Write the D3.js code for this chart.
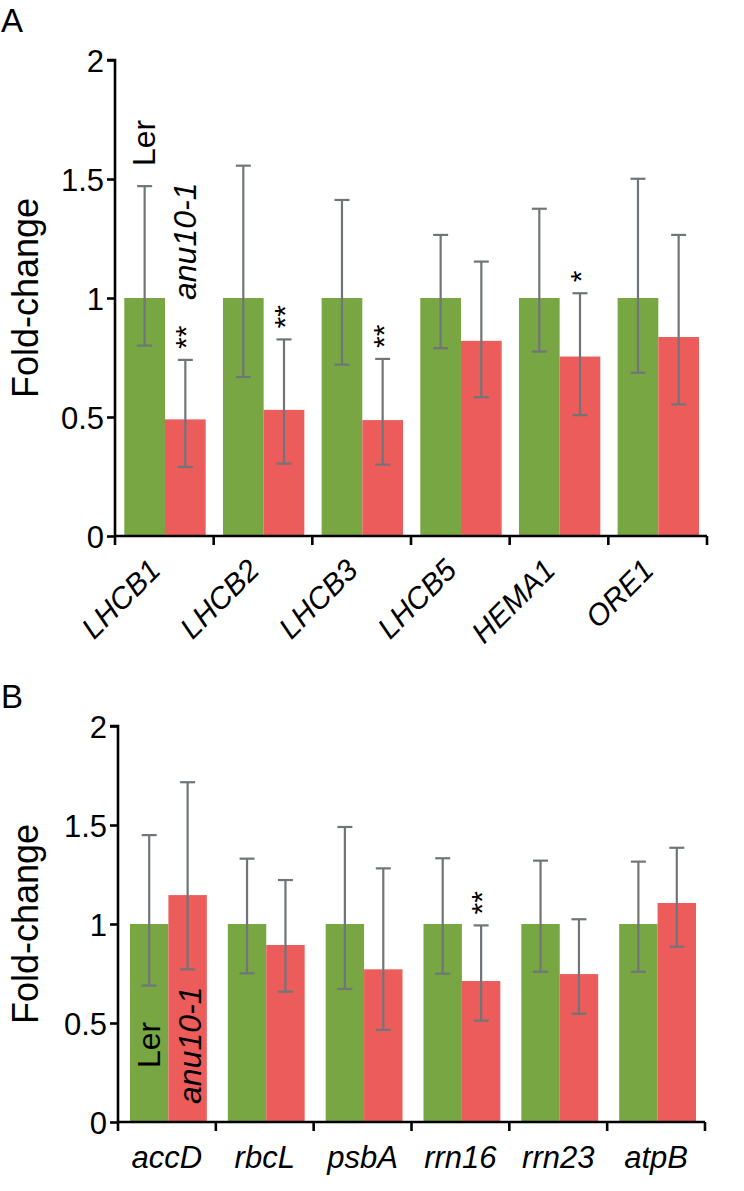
<!DOCTYPE html>
<html><head><meta charset="utf-8">
<script src="https://cdn.jsdelivr.net/npm/d3@7"></script>
<style>body{margin:0;background:#fff}svg{display:block}text{font-family:Arial,"Liberation Sans",Helvetica,sans-serif}</style>
</head><body>
<svg id="c" width="744" height="1191"></svg>
<script>
// Panel A data
const genesA = ["LHCB1","LHCB2","LHCB3","LHCB5","HEMA1","ORE1"];
const lerA = [1,1,1,1,1,1];
const lerA_hi = [1.47,1.556,1.412,1.265,1.375,1.501];
const lerA_lo = [0.80,0.668,0.72,0.789,0.775,0.686];
const anuA = [0.49,0.53,0.487,0.82,0.754,0.836];
const anuA_hi = [0.74,0.826,0.744,1.153,1.02,1.265];
const anuA_lo = [0.29,0.304,0.30,0.583,0.508,0.553];
const sigA = ["**","**","**","","*",""];
// Panel B data
const genesB = ["accD","rbcL","psbA","rrn16","rrn23","atpB"];
const lerB = [1,1,1,1,1,1];
const lerB_hi = [1.449,1.33,1.49,1.332,1.32,1.315];
const lerB_lo = [0.689,0.751,0.672,0.749,0.759,0.759];
const anuB = [1.146,0.894,0.771,0.712,0.747,1.106];
const anuB_hi = [1.716,1.222,1.281,0.993,1.024,1.385];
const anuB_lo = [0.771,0.658,0.465,0.512,0.547,0.885];
const sigB = ["","","","**","",""];
const yTicks = [0,0.5,1,1.5,2];
const tickLabels = ["0","0.5","1","1.5","2"];

const GREEN = "#78a642", RED = "#ec5c5a", ERR = "#6f7579";
const svg = d3.select("#c");

function panel(cfg){
  const {genes, ler, lerHi, lerLo, anu, anuHi, anuLo, sig, x0, x1, y0, y1, padL, padR, rotate, letter, lx, ly, legend} = cfg;
  const g = svg.append("g");
  const x = d3.scaleBand().domain(genes).range([x0, x1]).paddingInner(0).paddingOuter(0);
  const y = d3.scaleLinear().domain([0,2]).range([y0, y1]);
  const bw = x.bandwidth();
  const barW = (bw - padL - padR)/2;
  const rows = genes.map((gname,i)=>({g:gname,i}));
  const series = [
    {vals:ler, hi:lerHi, lo:lerLo, col:GREEN, off:padL},
    {vals:anu, hi:anuHi, lo:anuLo, col:RED, off:padL+barW}
  ];
  series.forEach(s=>{
    g.selectAll(null).data(rows).enter().append("rect")
      .attr("x", d=>x(d.g)+s.off).attr("width", barW)
      .attr("y", d=>y(s.vals[d.i])).attr("height", d=>y(0)-y(s.vals[d.i]))
      .attr("fill", s.col);
  });
  series.forEach(s=>{
    const cx = d=>x(d.g)+s.off+barW/2;
    g.selectAll(null).data(rows).enter().append("line")
      .attr("x1",cx).attr("x2",cx).attr("y1",d=>y(s.hi[d.i])).attr("y2",d=>y(s.lo[d.i]))
      .attr("stroke",ERR).attr("stroke-width",2.2);
    [s.hi,s.lo].forEach(arr=>{
      g.selectAll(null).data(rows).enter().append("line")
        .attr("x1",d=>cx(d)-7.5).attr("x2",d=>cx(d)+7.5).attr("y1",d=>y(arr[d.i])).attr("y2",d=>y(arr[d.i]))
        .attr("stroke",ERR).attr("stroke-width",2.2);
    });
  });
  // significance (rotated like the reference)
  g.selectAll(null).data(rows.filter(d=>sig[d.i])).enter().append("text")
    .attr("transform",d=>`translate(${x(d.g)+padL+barW*1.5+11},${y(anuHi[d.i])-11}) rotate(-90)`)
    .attr("font-size",30).attr("fill","#000").text(d=>sig[d.i]);
  // y axis
  const ya = d3.axisLeft(y).tickValues(yTicks).tickFormat((d,i)=>tickLabels[i]).tickSize(8).tickPadding(3);
  const yg = g.append("g").attr("transform",`translate(${x0},0)`).call(ya);
  yg.select(".domain").attr("d",`M${-8},${y1}H0V${y0}`).attr("stroke","#000").attr("stroke-width",2.6);
  yg.selectAll(".tick line").attr("stroke","#000").attr("stroke-width",2.6);
  yg.selectAll(".tick text").attr("font-size",31).attr("fill","#000").attr("dy","0.36em").attr("font-family","Arial, Liberation Sans, sans-serif");
  // x axis
  const xg = g.append("g").attr("transform",`translate(0,${y0})`);
  xg.append("line").attr("x1",x0).attr("x2",x1).attr("y1",0).attr("y2",0).attr("stroke","#000").attr("stroke-width",2.6);
  const bounds = genes.map(gname=>x(gname)).concat([x1]);
  xg.selectAll(null).data(bounds).enter().append("line")
    .attr("x1",d=>d).attr("x2",d=>d).attr("y1",0).attr("y2",9).attr("stroke","#000").attr("stroke-width",2.6);
  if(rotate){
    xg.selectAll(null).data(genes).enter().append("text")
      .attr("transform",d=>`translate(${x(d)+bw/2-2},36) rotate(-45)`)
      .attr("text-anchor","end").attr("font-size",30).attr("font-style","italic").text(d=>d);
  } else {
    xg.selectAll(null).data(genes).enter().append("text")
      .attr("x",d=>x(d)+bw/2).attr("y",46)
      .attr("text-anchor","middle").attr("font-size",31).attr("font-style","italic").text(d=>d);
  }
  // title
  g.append("text").attr("transform",`translate(${cfg.tx},${(y0+y1)/2}) rotate(-90)`)
    .attr("text-anchor","middle").attr("font-size",36).text("Fold-change");
  // panel letter
  svg.append("text").attr("x",lx).attr("y",ly).attr("font-size",33).text(letter);
  // legend labels
  const gx = x(genes[0])+padL+barW/2, rx = gx+barW;
  g.append("text").attr("transform",`translate(${gx+legend.dl},${legend.lerY}) rotate(-90)`)
    .attr("font-size",32).text("Ler");
  g.append("text").attr("transform",`translate(${rx+legend.da},${legend.anuY}) rotate(-90)`)
    .attr("font-size",32).attr("font-style","italic").text("anu10-1");
}

panel({genes:genesA, ler:lerA, lerHi:lerA_hi, lerLo:lerA_lo, anu:anuA, anuHi:anuA_hi, anuLo:anuA_lo, sig:sigA,
  x0:115, x1:707, y0:536, y1:60, padL:9.3, padR:8, rotate:true, letter:"A", lx:1, ly:32, tx:38,
  legend:{dl:10, lerY:166, da:11, anuY:300}});
panel({genes:genesB, ler:lerB, lerHi:lerB_hi, lerLo:lerB_lo, anu:anuB, anuHi:anuB_hi, anuLo:anuB_lo, sig:sigB,
  x0:118, x1:705, y0:1122, y1:726, padL:12, padR:9, rotate:false, letter:"B", lx:1, ly:708, tx:38,
  legend:{dl:11, lerY:1068, da:13, anuY:1104}});
</script>
</body></html>
